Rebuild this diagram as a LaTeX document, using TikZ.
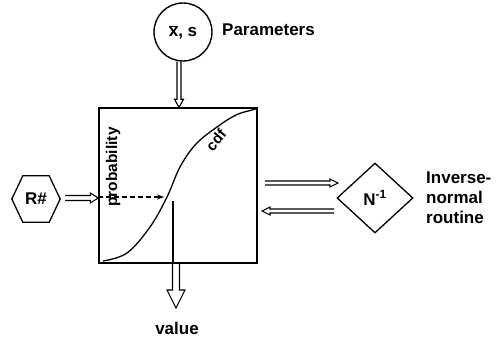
\documentclass[tikz,border=0pt]{standalone}
\usepackage{fontspec}
\setmainfont{Liberation Sans}
\usetikzlibrary{shapes.geometric,calc,arrows.meta}
% hollow block arrow: #1 tail, #2 tip, #3 shaft half width, #4 head half width, #5 head length
\newcommand\hollowarrow[5]{%
  \coordinate (ha-h) at ($(#2)!#5!(#1)$);
  \draw[harrow] ($(#1)!#3!90:(#2)$) -- ($(ha-h)!#3!90:(#2)$) -- ($(ha-h)!#4!90:(#2)$)
    -- (#2) -- ($(ha-h)!#4!-90:(#2)$) -- ($(ha-h)!#3!-90:(#2)$) -- ($(#1)!#3!-90:(#2)$);
}
\tikzset{
  harrow/.style={line width=1.1pt, line join=miter},
  lbl/.style={font=\bfseries\fontsize{17}{20}\selectfont, inner sep=0pt},
  frame/.style={draw, line width=1.4pt, inner sep=0pt},
}
\begin{document}
\begin{tikzpicture}[x=1pt, y=-1pt]
\useasboundingbox (0,0) rectangle (496,337);
% nodes
\node[frame, minimum width=158pt, minimum height=155pt] (box) at (178,185.5) {};
\node[frame, circle, minimum size=58pt, lbl] (circ) at (183,32) {$\overline{\mbox{x}}$, s};
\node[lbl, anchor=west] (par) at (222,30) {Parameters};
\node[inner sep=0pt, minimum width=48pt, minimum height=46pt] (hex) at (36,199) {};
\draw[line width=1.3pt, line join=miter] (hex.west) -- ([xshift=11pt]hex.north west) -- ([xshift=-11pt]hex.north east)
  -- (hex.east) -- ([xshift=-11pt]hex.south east) -- ([xshift=11pt]hex.south west) -- cycle;
\node[lbl] (rnum) at (hex) {R\#};
\node[frame, diamond, minimum width=76pt, minimum height=70pt, lbl, line width=1.3pt] (dia) at (375,198) {N\textsuperscript{-1}};
\node[lbl, anchor=north west, align=left] (inv) at (426,172) {Inverse-\\normal\\routine};
\node[lbl] (val) at (177,328) {value};
% curve and labels inside the box
\draw[line width=1.3pt] plot[smooth, tension=0.6] coordinates
  {(103,261) (127,253) (150,227) (167,197) (180,167) (196,144) (217,127) (236,115) (252,110) (256,109)};
\node[lbl, font=\bfseries\fontsize{15.5}{18}\selectfont, rotate=90] (prob) at (113,167) {probability};
\node[lbl, font=\bfseries\fontsize{15}{18}\selectfont, rotate=50] (cdf) at (216,140) {cdf};
% dashed arrow and value line
\coordinate (dend) at (164,197);
\draw[line width=1.1pt, dash pattern=on 5pt off 3pt, -{Stealth[length=7pt,width=5pt]}] (box.west |- dend) -- (dend);
\coordinate (vtop) at (173,201);
\draw[line width=1.3pt] (vtop) -- (vtop |- box.south);
% hollow arrows
\hollowarrow{[xshift=-4pt]circ.south}{[xshift=1pt]box.north}{2pt}{4.5pt}{8pt}
\coordinate (ra) at (65,198);
\hollowarrow{ra}{box.west |- ra}{2.5pt}{5pt}{8pt}
\coordinate (t1) at (265,183);
\coordinate (t2) at (338,183);
\hollowarrow{t1}{t2}{2pt}{4pt}{8pt}
\coordinate (b1) at (334,211);
\coordinate (b2) at (262,211);
\hollowarrow{b1}{b2}{2pt}{4pt}{8pt}
\coordinate (vb) at (176,308);
\hollowarrow{vb |- box.south}{vb}{3.5pt}{9pt}{18pt}
\end{tikzpicture}
\end{document}
